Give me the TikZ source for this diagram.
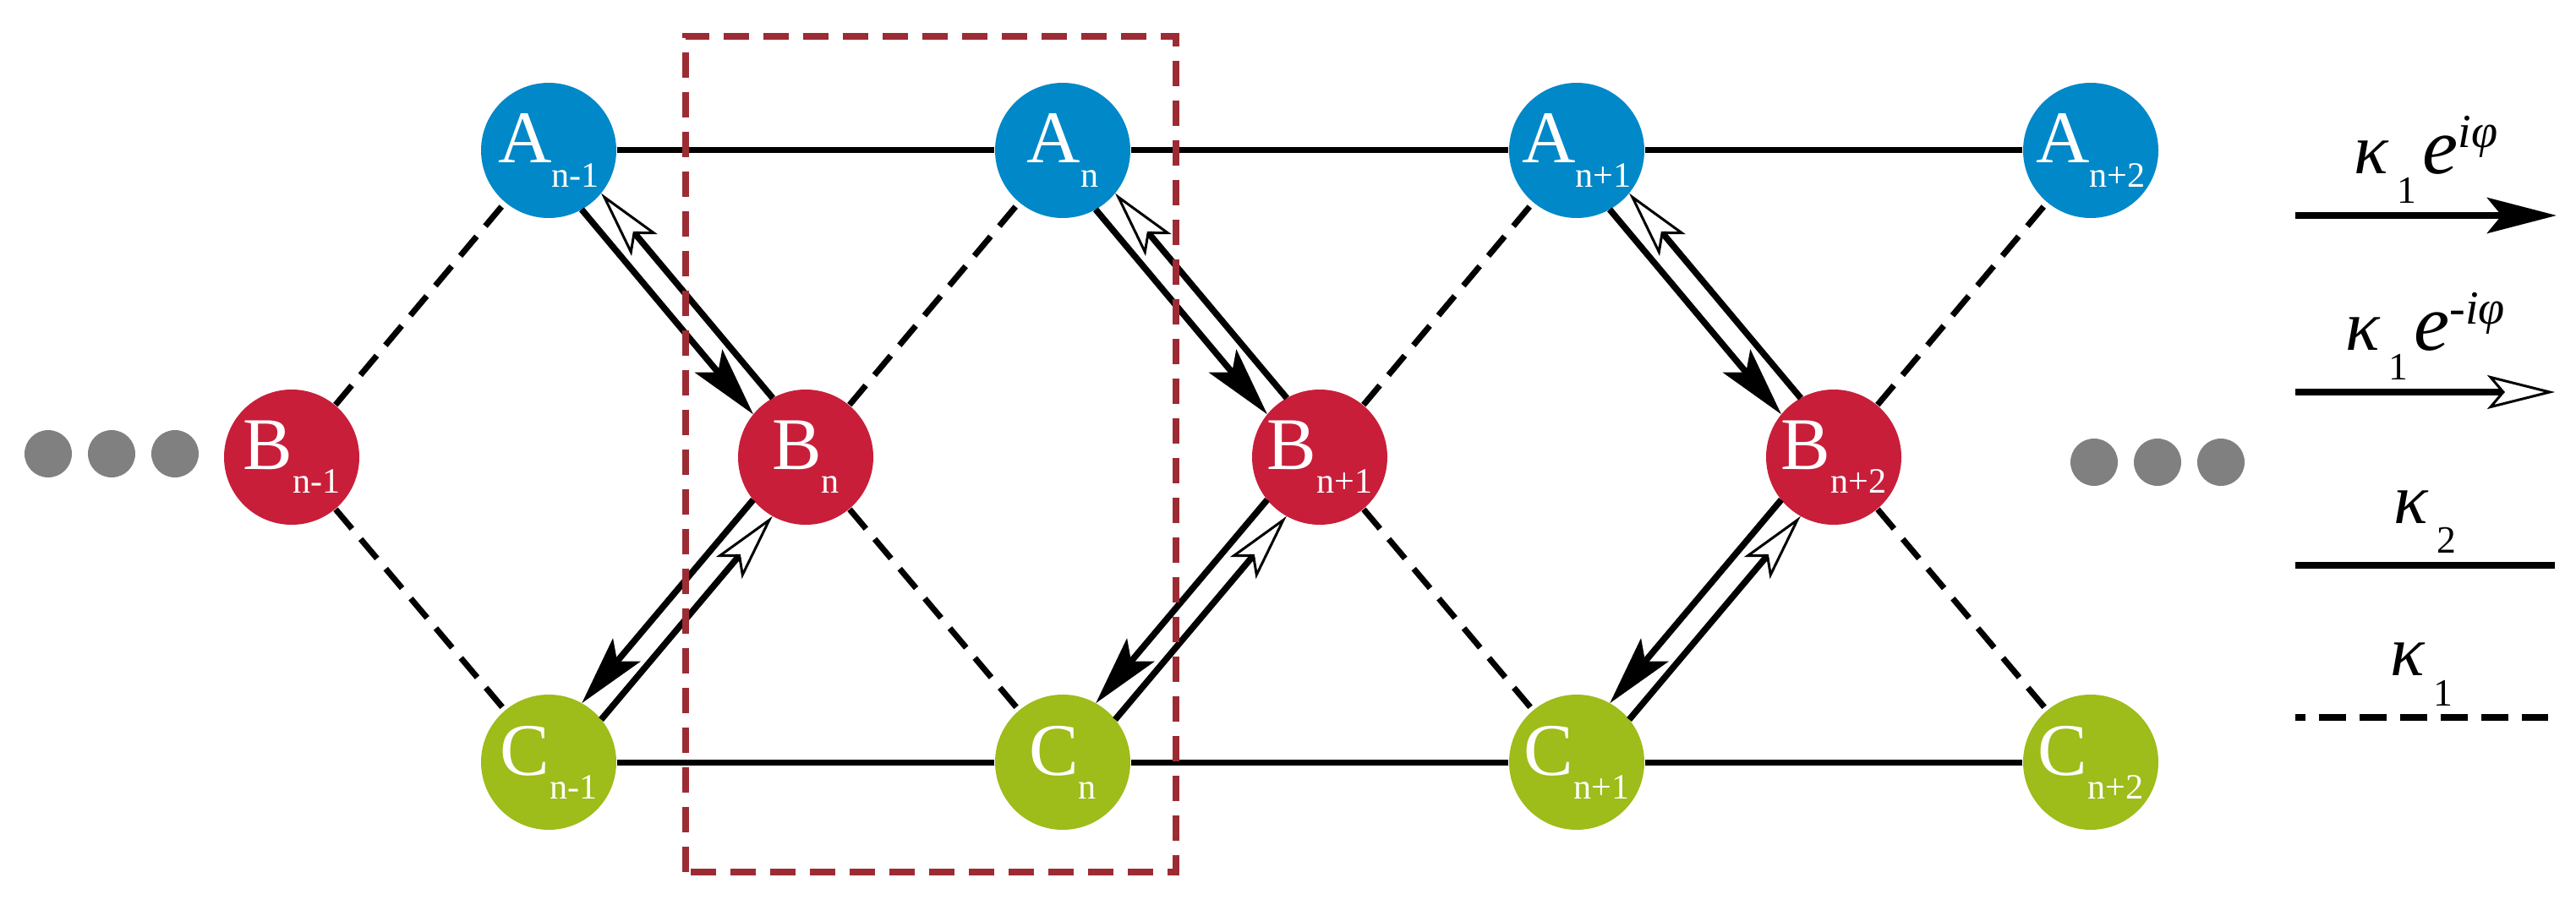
\documentclass[tikz,border=0pt]{standalone}
\usepackage{fontspec}
\setmainfont{Liberation Serif}
\usepackage{tikz}
\usetikzlibrary{arrows.meta,calc}
\definecolor{siteA}{RGB}{0,136,200}
\definecolor{siteB}{RGB}{200,30,58}
\definecolor{siteC}{RGB}{158,188,26}
\definecolor{cellcolor}{RGB}{157,43,52}
\definecolor{dotcolor}{RGB}{128,128,128}
\newcommand{\lsub}[1]{\raisebox{-8pt}{\fontsize{12}{12}\selectfont #1}}
\newcommand{\kap}[1]{{\itshape κ}\hspace{3pt}\raisebox{-10pt}{\fontsize{13}{13}\selectfont #1}}
\newcommand{\phs}[1]{\hspace{2pt}{\fontsize{27}{27}\selectfont\itshape e}\raisebox{9pt}{\fontsize{16}{16}\selectfont\itshape #1}}
\tikzset{
  site/.style={
    circle,
    minimum size=1.6cm,
    inner sep=0pt,
    text=white,
    font=\fontsize{25}{25}\selectfont
  },
  site A/.style={site, fill=siteA},
  site B/.style={site, fill=siteB},
  site C/.style={site, fill=siteC},
  dotnode/.style={circle, fill=dotcolor, minimum size=0.56cm, inner sep=0pt},
  tipfill/.style={-{Stealth[length=0.82cm,width=0.42cm,inset=0.17cm]}},
  tipopen/.style={-{Stealth[open,length=0.80cm,width=0.40cm,inset=0.17cm,line width=0.03cm]}},
  hop two/.style={line width=0.07cm},
  hop one/.style={line width=0.07cm, dash pattern=on 0.30cm off 0.16cm},
  hop fwd/.style={line width=0.075cm, shorten <=0.786cm, shorten >=0.786cm, tipfill},
  hop bwd/.style={line width=0.075cm, shorten <=0.786cm, shorten >=0.786cm, tipopen},
  unitcell/.style={draw=cellcolor, line width=0.08cm, dash pattern=on 0.30cm off 0.17cm},
  legendlabel/.style={font=\fontsize{24}{24}\selectfont, inner sep=0pt, above=0.1cm}
}
\begin{document}
\begin{tikzpicture}
  \useasboundingbox (0,0) rectangle (30.47,10.70);

  % sites
  \node[site A] (a0) at (6.49,8.92) {A\lsub{n-1}};
  \node[site A] (a1) at (12.57,8.92) {A\lsub{n}};
  \node[site A] (a2) at (18.65,8.92) {A\lsub{n+1}};
  \node[site A] (a3) at (24.73,8.92) {A\lsub{n+2}};

  \node[site B] (b0) at (3.45,5.29) {B\lsub{n-1}};
  \node[site B] (b1) at (9.53,5.29) {B\lsub{n}};
  \node[site B] (b2) at (15.61,5.29) {B\lsub{n+1}};
  \node[site B] (b3) at (21.69,5.29) {B\lsub{n+2}};

  \node[site C] (c0) at (6.49,1.68) {C\lsub{n-1}};
  \node[site C] (c1) at (12.57,1.68) {C\lsub{n}};
  \node[site C] (c2) at (18.65,1.68) {C\lsub{n+1}};
  \node[site C] (c3) at (24.73,1.68) {C\lsub{n+2}};

  % dots
  \node[dotnode] (dl1) at (0.57,5.33) {};
  \node[dotnode] (dl2) at (1.32,5.33) {};
  \node[dotnode] (dl3) at (2.07,5.33) {};
  \node[dotnode] (dr1) at (24.77,5.23) {};
  \node[dotnode] (dr2) at (25.52,5.23) {};
  \node[dotnode] (dr3) at (26.27,5.23) {};

  % kappa_2 bonds
  \draw[hop two] (a0) -- (a1) (a1) -- (a2) (a2) -- (a3);
  \draw[hop two] (c0) -- (c1) (c1) -- (c2) (c2) -- (c3);

  % kappa_1 bonds
  \draw[hop one] (b0) -- (a0) (b0) -- (c0);
  \draw[hop one] (b1) -- (a1) (b1) -- (c1);
  \draw[hop one] (b2) -- (a2) (b2) -- (c2);
  \draw[hop one] (b3) -- (a3) (b3) -- (c3);

  % phase hoppings
  \draw[hop fwd] ($(a0)!0.15cm!-90:(b1)$) -- ($(b1)!0.15cm!90:(a0)$);
  \draw[hop bwd] ($(b1)!0.15cm!-90:(a0)$) -- ($(a0)!0.15cm!90:(b1)$);
  \draw[hop fwd] ($(b1)!0.15cm!-90:(c0)$) -- ($(c0)!0.15cm!90:(b1)$);
  \draw[hop bwd] ($(c0)!0.15cm!-90:(b1)$) -- ($(b1)!0.15cm!90:(c0)$);

  \draw[hop fwd] ($(a1)!0.15cm!-90:(b2)$) -- ($(b2)!0.15cm!90:(a1)$);
  \draw[hop bwd] ($(b2)!0.15cm!-90:(a1)$) -- ($(a1)!0.15cm!90:(b2)$);
  \draw[hop fwd] ($(b2)!0.15cm!-90:(c1)$) -- ($(c1)!0.15cm!90:(b2)$);
  \draw[hop bwd] ($(c1)!0.15cm!-90:(b2)$) -- ($(b2)!0.15cm!90:(c1)$);

  \draw[hop fwd] ($(a2)!0.15cm!-90:(b3)$) -- ($(b3)!0.15cm!90:(a2)$);
  \draw[hop bwd] ($(b3)!0.15cm!-90:(a2)$) -- ($(a2)!0.15cm!90:(b3)$);
  \draw[hop fwd] ($(b3)!0.15cm!-90:(c2)$) -- ($(c2)!0.15cm!90:(b3)$);
  \draw[hop bwd] ($(c2)!0.15cm!-90:(b3)$) -- ($(b3)!0.15cm!90:(c2)$);

  % unit cell
  \draw[unitcell] (8.11,0.38) rectangle (13.91,10.27);

  % legend
  \coordinate (l1s) at (27.15,8.15);
  \coordinate (l1e) at (30.24,8.15);
  \coordinate (l2s) at (27.15,6.06);
  \coordinate (l2e) at (30.22,6.06);
  \coordinate (l3s) at (27.15,4.01);
  \coordinate (l3e) at (30.22,4.01);
  \coordinate (l4s) at (27.15,2.21);
  \coordinate (l4e) at (30.14,2.21);
  \draw[line width=0.08cm, tipfill] (l1s) -- node[legendlabel] {\kap{1}\phs{iφ}} (l1e);
  \draw[line width=0.08cm, tipopen] (l2s) -- node[legendlabel] {\kap{1}\phs{-iφ}} (l2e);
  \draw[line width=0.08cm] (l3s) -- node[legendlabel] {\kap{2}} (l3e);
  \draw[line width=0.08cm, dash pattern=on 0.32cm off 0.16cm, dash phase=0.20cm] (l4s) -- node[legendlabel] {\kap{1}} (l4e);

\end{tikzpicture}
\end{document}
